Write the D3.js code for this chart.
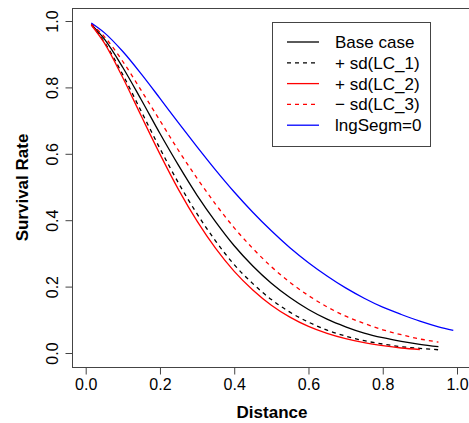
<!DOCTYPE html>
<html><head><meta charset="utf-8">
<script src="https://cdn.jsdelivr.net/npm/d3@7"></script>
<style>body{margin:0;background:#fff}svg{display:block}text{font-family:"Liberation Sans",Arial,sans-serif}</style>
</head><body>
<svg id="c" width="469" height="423"></svg>
<script>
const distance = [0.015,0.05,0.1,0.15,0.2,0.25,0.3,0.35,0.4,0.45,0.5,0.55,0.6,0.65,0.7,0.75,0.8,0.85,0.9,0.95,0.99];
const baseCase = [0.990,0.946,0.860,0.762,0.661,0.565,0.475,0.395,0.323,0.262,0.210,0.167,0.131,0.102,0.079,0.060,0.046,0.035,0.026,0.019];
const lc1Plus  = [0.989,0.937,0.838,0.727,0.616,0.512,0.419,0.337,0.266,0.209,0.161,0.123,0.093,0.069,0.051,0.037,0.027,0.019,0.014,0.0097];
const lc2Plus  = [0.988,0.934,0.829,0.713,0.599,0.492,0.397,0.315,0.246,0.190,0.144,0.108,0.080,0.059,0.043,0.031,0.022,0.015,0.0106];
const lc3Minus = [0.992,0.953,0.878,0.790,0.700,0.610,0.526,0.448,0.377,0.315,0.260,0.213,0.173,0.139,0.111,0.089,0.070,0.055,0.042,0.033];
const segm0    = [0.994,0.965,0.908,0.840,0.767,0.693,0.621,0.551,0.485,0.424,0.368,0.317,0.272,0.232,0.196,0.165,0.138,0.116,0.096,0.079,0.068];
const xTicks = [0,0.2,0.4,0.6,0.8,1.0];
const yTicks = [0,0.2,0.4,0.6,0.8,1.0];
const seriesNames = ["Base case","+ sd(LC_1)","+ sd(LC_2)","\u2212 sd(LC_3)","lngSegm=0"];
const seriesColors = ["#000000","#000000","#ff0000","#ff0000","#0000ff"];
const seriesDash = [null,"4,4",null,"4,4",null];
const seriesValues = [baseCase,lc1Plus,lc2Plus,lc3Minus,segm0];

const svg = d3.select("#c");
const x = d3.scaleLinear().domain([0,1]).range([85.7,457]);
const y = d3.scaleLinear().domain([0,1]).range([353,21]);
const box = {l:72,t:8,r:472,b:367};
const axisCol = "#444";

svg.append("rect").attr("x",box.l+0.5).attr("y",box.t+0.5).attr("width",box.r-box.l).attr("height",box.b-box.t)
  .attr("fill","none").attr("stroke",axisCol).attr("stroke-width",1);

const xa = svg.append("g").attr("transform",`translate(0,${box.b+0.5})`)
  .call(d3.axisBottom(x).tickValues(xTicks).tickFormat(d3.format(".1f")).tickSize(7).tickSizeOuter(0));
xa.select(".domain").remove();
xa.selectAll("line").attr("stroke",axisCol);
xa.selectAll("text").attr("font-size",16).attr("fill","#000").attr("dy",null).attr("y",11).attr("dominant-baseline","hanging");

const ya = svg.append("g").attr("transform",`translate(${box.l+0.5},0)`)
  .call(d3.axisLeft(y).tickValues(yTicks).tickFormat(d3.format(".1f")).tickSize(7).tickSizeOuter(0));
ya.select(".domain").remove();
ya.selectAll("line").attr("stroke",axisCol);
ya.selectAll("text").attr("font-size",16).attr("fill","#000")
  .attr("x",null).attr("dy",null).attr("text-anchor","middle")
  .attr("transform","translate(-15,0) rotate(-90)");

const line = d3.line().x(d=>x(d[0])).y(d=>y(d[1])).curve(d3.curveMonotoneX);
seriesValues.forEach((vals,i)=>{
  const pts = vals.map((v,j)=>[distance[j],v]);
  svg.append("path").attr("d",line(pts)).attr("fill","none")
    .attr("stroke",seriesColors[i]).attr("stroke-width",1.3)
    .attr("stroke-dasharray",seriesDash[i]);
});

svg.append("text").attr("x",(box.l+box.r)/2).attr("y",418).attr("text-anchor","middle")
  .attr("font-size",17).attr("font-weight","bold").text("Distance");
svg.append("text").attr("transform",`translate(28,${(box.t+box.b)/2}) rotate(-90)`).attr("text-anchor","middle")
  .attr("font-size",17).attr("font-weight","bold").text("Survival Rate");

const lg = svg.append("g");
lg.append("rect").attr("x",272.5).attr("y",22.5).attr("width",158).attr("height",124)
  .attr("fill","#fff").attr("stroke",axisCol);
seriesNames.forEach((n,i)=>{
  const cy = 42 + i*20.8;
  lg.append("line").attr("x1",287).attr("x2",319).attr("y1",cy).attr("y2",cy)
    .attr("stroke",seriesColors[i]).attr("stroke-width",1.3).attr("stroke-dasharray",seriesDash[i]);
  lg.append("text").attr("x",335).attr("y",cy).attr("dy","0.35em").attr("font-size",17).text(n);
});
</script>
</body></html>
